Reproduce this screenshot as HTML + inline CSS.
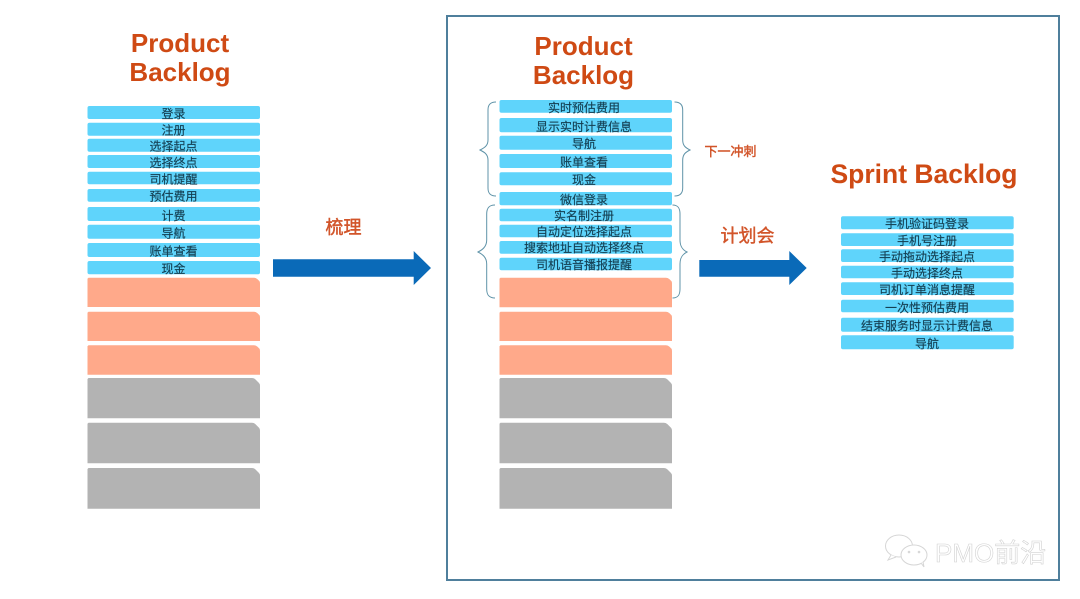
<!DOCTYPE html>
<html><head><meta charset="utf-8"><style>
html,body{margin:0;padding:0;background:#fff}
svg{display:block}
.b{fill:#5fd4fb}
.o{fill:#ffa98a}
.g{fill:#b3b3b3}
.t{font:12px "Liberation Sans","Noto Sans CJK SC",sans-serif;fill:#143f52;stroke:#143f52;stroke-width:.15;text-anchor:middle}
.h{font:bold 26px "Liberation Sans",sans-serif;fill:#cf4a14;text-anchor:middle}
.c{font-family:"Liberation Sans","Noto Sans CJK SC",sans-serif;fill:#d2552a;stroke:#d2552a;stroke-width:.45;text-anchor:middle}
.br{fill:none;stroke:#5f93a8;stroke-width:1}
.w{font:26px "Liberation Sans","Noto Sans CJK SC",sans-serif;fill:#fff;stroke:#d2d2d2;stroke-width:.6}
</style></head><body>
<svg width="1080" height="599" viewBox="0 0 1080 599" xmlns="http://www.w3.org/2000/svg">
<rect x="447" y="16" width="612" height="564" fill="#fff" stroke="#4f7f9c" stroke-width="2"/>

<text class="h" x="180" y="52">Product</text>
<text class="h" x="180" y="81">Backlog</text>
<text class="h" x="583.5" y="55">Product</text>
<text class="h" x="583.5" y="84">Backlog</text>
<text class="h" x="924" y="183" style="font-size:26.5px">Sprint Backlog</text>

<!-- left column -->
<rect class="b" x="87.5" y="106" width="172.5" height="13" rx="2"/>
<rect class="b" x="87.5" y="122.7" width="172.5" height="13" rx="2"/>
<rect class="b" x="87.5" y="138.7" width="172.5" height="13" rx="2"/>
<rect class="b" x="87.5" y="155" width="172.5" height="13" rx="2"/>
<rect class="b" x="87.5" y="171.7" width="172.5" height="12.6" rx="2"/>
<rect class="b" x="87.5" y="189" width="172.5" height="12.7" rx="2"/>
<rect class="b" x="87.5" y="207" width="172.5" height="14" rx="2"/>
<rect class="b" x="87.5" y="224.7" width="172.5" height="14" rx="2"/>
<rect class="b" x="87.5" y="243" width="172.5" height="14" rx="2"/>
<rect class="b" x="87.5" y="261" width="172.5" height="13.3" rx="2"/>
<text class="t" x="173.5" y="118">登录</text>
<text class="t" x="173.5" y="134.5">注册</text>
<text class="t" x="173.5" y="150.5">选择起点</text>
<text class="t" x="173.5" y="167">选择终点</text>
<text class="t" x="173.5" y="183.5">司机提醒</text>
<text class="t" x="173.5" y="200.5">预估费用</text>
<text class="t" x="173.5" y="220">计费</text>
<text class="t" x="173.5" y="237.5">导航</text>
<text class="t" x="173.5" y="255.5">账单查看</text>
<text class="t" x="173.5" y="273">现金</text>
<path class="o" d="M88.5 277.7H254q2 0 3.500 1.500l2 2q.5 .5 .5 2.500V307H87.500V278.700Z"/>
<path class="o" d="M88.5 311.7H254q2 0 3.500 1.500l2 2q.5 .5 .5 2.500V341H87.500V312.700Z"/>
<path class="o" d="M88.5 345.3H254q2 0 3.500 1.500l2 2q.5 .5 .5 2.500V374.700H87.500V346.300Z"/>
<path class="g" d="M88.500 378H252q2 0 3.500 1.500l3.500 3.500q1 1 1 3V418.300H87.500V379Z"/>
<path class="g" d="M88.500 422.700H252q2 0 3.500 1.500l3.500 3.500q1 1 1 3V463.300H87.500V423.700Z"/>
<path class="g" d="M88.500 468H252q2 0 3.500 1.500l3.500 3.500q1 1 1 3V508.700H87.500V469Z"/>

<!-- middle column -->
<rect class="b" x="499.500" y="100" width="172.500" height="12.700" rx="2"/>
<rect class="b" x="499.500" y="118" width="172.500" height="14.300" rx="2"/>
<rect class="b" x="499.500" y="135.700" width="172.500" height="14" rx="2"/>
<rect class="b" x="499.500" y="154" width="172.500" height="14" rx="2"/>
<rect class="b" x="499.500" y="172.300" width="172.500" height="13" rx="2"/>
<rect class="b" x="499.500" y="192" width="172.500" height="13.300" rx="2"/>
<rect class="b" x="499.500" y="208.700" width="172.500" height="12.600" rx="2"/>
<rect class="b" x="499.500" y="224.700" width="172.500" height="12.600" rx="2"/>
<rect class="b" x="499.500" y="241" width="172.500" height="12.700" rx="2"/>
<rect class="b" x="499.500" y="257.700" width="172.500" height="12.600" rx="2"/>
<text class="t" x="584" y="112">实时预估费用</text>
<text class="t" x="584" y="131">显示实时计费信息</text>
<text class="t" x="584" y="148">导航</text>
<text class="t" x="584" y="166.500">账单查看</text>
<text class="t" x="584" y="184">现金</text>
<text class="t" x="584" y="204">微信登录</text>
<text class="t" x="584" y="220">实名制注册</text>
<text class="t" x="584" y="236">自动定位选择起点</text>
<text class="t" x="584" y="252">搜索地址自动选择终点</text>
<text class="t" x="584" y="269">司机语音播报提醒</text>
<path class="o" d="M500.500 277.700H666q2 0 3.500 1.500l2 2q.5 .5 .5 2.500V307.300H499.500V278.700Z"/>
<path class="o" d="M500.500 311.700H666q2 0 3.500 1.500l2 2q.5 .5 .5 2.500V341H499.500V312.700Z"/>
<path class="o" d="M500.500 345.300H666q2 0 3.500 1.500l2 2q.5 .5 .5 2.500V374.700H499.500V346.300Z"/>
<path class="g" d="M500.500 378H664q2 0 3.500 1.500l3.500 3.500q1 1 1 3V418.300H499.500V379Z"/>
<path class="g" d="M500.500 422.700H664q2 0 3.500 1.500l3.500 3.500q1 1 1 3V463.300H499.500V423.700Z"/>
<path class="g" d="M500.500 468H664q2 0 3.500 1.500l3.500 3.500q1 1 1 3V508.700H499.500V469Z"/>

<!-- braces -->
<path class="br" d="M496 102C490 102 488 105 488 110V140C488 146 484 148 480 150C484 152 488 154 488 160V188C488 193 490 196 496 196"/>
<path class="br" d="M674.500 102C680 102 682.700 105 682.700 110V140C682.700 146 686 148 690 150C686 152 682.700 154 682.700 160V188C682.700 193 680 196 674.500 196"/>
<path class="br" d="M495 205C489 205 486.700 208 486.700 214V240C486.700 247 482 250 478 252C482 254 486.700 257 486.700 264V289C486.700 295 489 298 495 298"/>
<path class="br" d="M672.500 205C678 205 680 208 680 214V240C680 247 683 250 687 252C683 254 680 257 680 264V289C680 295 678 298 672.500 298"/>

<!-- right column -->
<rect class="b" x="841" y="216.300" width="172.700" height="13" rx="2"/>
<rect class="b" x="841" y="233.300" width="172.700" height="12.700" rx="2"/>
<rect class="b" x="841" y="249.300" width="172.700" height="12.700" rx="2"/>
<rect class="b" x="841" y="265.700" width="172.700" height="12.600" rx="2"/>
<rect class="b" x="841" y="282.300" width="172.700" height="12.700" rx="2"/>
<rect class="b" x="841" y="299.700" width="172.700" height="12.600" rx="2"/>
<rect class="b" x="841" y="317.700" width="172.700" height="14" rx="2"/>
<rect class="b" x="841" y="335.300" width="172.700" height="14" rx="2"/>
<text class="t" x="927" y="228">手机验证码登录</text>
<text class="t" x="927" y="245">手机号注册</text>
<text class="t" x="927" y="261">手动拖动选择起点</text>
<text class="t" x="927" y="277.500">手动选择终点</text>
<text class="t" x="927" y="294">司机订单消息提醒</text>
<text class="t" x="927" y="312">一次性预估费用</text>
<text class="t" x="927" y="330">结束服务时显示计费信息</text>
<text class="t" x="927" y="348">导航</text>

<!-- arrows -->
<path d="M273 259.300H413.700V251L431 268L413.700 285V276.700H273Z" fill="#0a6ab8"/>
<path d="M699.300 260H789.300V251L806.700 268L789.300 285V276.700H699.300Z" fill="#0a6ab8"/>

<text class="c" x="343.500" y="233.500" font-size="18">梳理</text>
<text class="c" x="747.500" y="242" font-size="18">计划会</text>
<text class="c" x="730.500" y="156" font-size="13">下一冲刺</text>

<!-- watermark -->
<g fill="#fff" stroke="#d6d6d6" stroke-width="1">
<ellipse cx="899" cy="546" rx="13.500" ry="11"/>
<path d="M891 555l-3 5 8-3"/>
<ellipse cx="914" cy="555" rx="13" ry="10"/>
<path d="M921 563l3 4-1-5"/>
<circle cx="909" cy="552" r=".8"/>
<circle cx="919" cy="552" r=".8"/>
</g>
<text class="w" x="935" y="562">PMO前沿</text>
</svg>
</body></html>
